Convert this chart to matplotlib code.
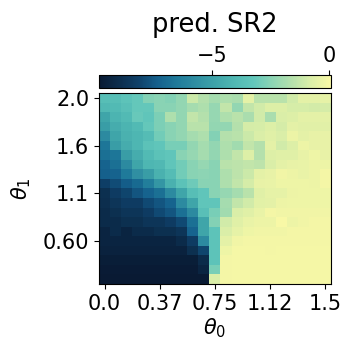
import numpy as np
import matplotlib
matplotlib.use('Agg')
import matplotlib.pyplot as plt
from matplotlib.colors import LinearSegmentedColormap

# theta0 along columns, theta1 along rows (top row = 2.0)
theta0_ticks = [0, 5, 10, 15, 20]
theta0_labels = ['0.0', '0.37', '0.75', '1.12', '1.5']
theta1_ticks = [0, 5, 10, 15]
theta1_labels = ['2.0', '1.6', '1.1', '0.60']

# predicted SR2, rows top -> bottom
row00 = [-3.7, -3.7, -3.4, -3.2, -2.6, -2.5, -2.6, -2.3, -1.1, -1.6, -1.9, -1.7, -1.8, -0.5, -1.5, -1.5, -1.5, -1.0, -0.5, -0.5, -0.45]
row01 = [-4.0, -3.9, -3.6, -3.2, -3.2, -2.5, -2.5, -2.3, -1.9, -1.7, -2.2, -1.3, -2.3, -1.3, -1.0, -0.7, -0.7, -0.85, -0.85, -0.95, -0.9]
row02 = [-4.8, -4.2, -3.9, -3.1, -3.3, -2.7, -1.7, -2.3, -1.3, -1.6, -2.2, -1.7, -1.5, -1.8, -1.0, -1.8, -0.8, -0.7, -0.5, -0.5, -0.5]
row03 = [-5.1, -4.5, -4.2, -3.9, -3.2, -2.7, -2.5, -2.3, -1.5, -1.5, -2.3, -2.3, -1.6, -0.9, -0.85, -0.7, -0.9, -0.5, -0.6, -0.6, -0.6]
row04 = [-5.8, -4.8, -4.3, -4.1, -3.8, -2.9, -2.5, -2.3, -1.9, -1.7, -2.6, -1.6, -1.5, -1.1, -0.8, -0.65, -0.8, -0.3, -0.5, -0.4, -0.4]
row05 = [-6.6, -5.1, -4.5, -4.1, -3.5, -3.3, -2.8, -2.8, -2.3, -1.9, -2.3, -1.7, -2.0, -1.3, -1.6, -0.5, -1.0, -0.7, -0.25, -0.4, -0.4]
row06 = [-6.8, -6.6, -5.1, -4.5, -3.9, -3.5, -3.3, -2.5, -2.2, -1.9, -2.3, -1.7, -1.3, -0.7, -1.6, -0.7, -0.65, -0.65, -0.4, -0.2, -0.4]
row07 = [-7.2, -6.8, -5.8, -4.8, -4.1, -4.0, -3.3, -2.9, -2.5, -2.2, -2.5, -1.5, -1.4, -1.3, -1.4, -0.8, -0.5, -0.4, -0.35, -0.25, -0.25]
row08 = [-7.3, -7.2, -6.5, -5.6, -5.1, -4.3, -3.8, -2.9, -2.5, -2.4, -2.5, -1.7, -1.4, -1.1, -0.5, -0.4, -0.12, -0.25, -0.35, -0.25, -0.05]
row09 = [-8.2, -7.8, -7.4, -7.0, -6.3, -5.4, -4.3, -3.5, -3.0, -2.5, -2.5, -1.7, -1.3, -0.9, -0.4, -0.35, -0.2, -0.2, -0.2, -0.25, -0.05]
row10 = [-8.8, -8.3, -8.0, -7.6, -7.2, -6.8, -5.8, -4.8, -3.7, -3.3, -2.5, -2.2, -1.9, -1.5, -0.65, -0.45, -0.45, -0.25, -0.2, -0.2, -0.2]
row11 = [-8.9, -8.6, -8.3, -8.3, -7.9, -7.6, -7.2, -5.8, -4.8, -3.3, -3.3, -1.9, -1.3, -1.0, -0.55, -0.5, -0.25, -0.2, -0.2, -0.2, -0.2]
row12 = [-9.0, -8.8, -8.6, -8.6, -8.3, -7.9, -7.6, -6.8, -5.8, -3.6, -2.8, -2.0, -0.8, -0.65, -0.35, -0.05, -0.12, -0.12, -0.12, -0.12, -0.12]
row13 = [-9.0, -9.0, -8.8, -8.8, -8.6, -8.6, -8.3, -7.9, -6.8, -4.8, -2.6, -1.0, -0.65, -0.35, -0.25, -0.25, 0.05, -0.25, -0.12, -0.05, -0.05]
row14 = [-9.3, -9.0, -9.3, -9.0, -9.0, -8.8, -8.8, -8.6, -7.2, -4.8, -3.4, -0.8, -0.45, -0.2, -0.12, -0.12, -0.12, -0.05, -0.05, -0.05, -0.05]
row15 = [-9.3, -9.3, -9.3, -9.3, -9.3, -9.3, -9.3, -9.0, -8.3, -5.8, -3.4, -0.5, -0.12, -0.05, -0.05, -0.05, -0.05, -0.05, -0.05, -0.05, -0.05]
row16 = [-9.4, -9.4, -9.4, -9.4, -9.4, -9.4, -9.4, -9.4, -8.8, -8.0, -3.4, -0.2, -0.03, -0.03, -0.03, -0.05, -0.03, -0.03, -0.03, -0.03, -0.03]
row17 = [-9.6, -9.6, -9.6, -9.6, -9.6, -9.6, -9.6, -9.6, -9.6, -9.0, -3.4, -0.05, -0.03, -0.03, -0.03, -0.03, -0.03, -0.03, -0.03, -0.03, -0.03]
row18 = [-9.7, -9.7, -9.7, -9.7, -9.7, -9.7, -9.7, -9.7, -9.7, -9.3, -2.8, -0.05, -0.03, -0.03, -0.03, -0.03, -0.03, -0.03, -0.03, -0.03, -0.03]
row19 = [-9.8, -9.8, -9.8, -9.8, -9.8, -9.8, -9.8, -9.8, -9.8, -9.8, -0.8, -0.05, -0.03, -0.03, -0.03, -0.03, -0.03, -0.03, -0.03, -0.03, -0.03]

sr2 = np.array([row00, row01, row02, row03, row04, row05, row06, row07, row08, row09,
                row10, row11, row12, row13, row14, row15, row16, row17, row18, row19])

cmap = LinearSegmentedColormap.from_list('sr2', [
    '#091a33', '#0c2d4c', '#0f4068', '#15608c', '#1f7a9a', '#2f8ea2',
    '#3ea4a9', '#50b8b3', '#62c7bb', '#8ed5b4', '#b5e1ac', '#dcefa8', '#f8f8a6'])

fig = plt.figure(figsize=(3.53, 3.52), dpi=100)
ax = fig.add_axes([99 / 353, 68 / 352, 232 / 353, 191 / 352])
cax = fig.add_axes([99 / 353, 264.3 / 352, 232 / 353, 12.4 / 352])

im = ax.imshow(sr2, cmap=cmap, vmin=-9.8, vmax=0.08, aspect='auto', interpolation='nearest')
ax.set_xticks(theta0_ticks)
ax.set_xticklabels(theta0_labels)
ax.set_yticks(theta1_ticks)
ax.set_yticklabels(theta1_labels)
ax.tick_params(labelsize=15)
ax.set_xlabel(r'$\theta_0$', fontsize=15, labelpad=2)
ax.set_ylabel(r'$\theta_1$', fontsize=15, labelpad=7)

cb = fig.colorbar(im, cax=cax, orientation='horizontal', ticklocation='top')
cb.set_ticks([-5, 0])
cb.ax.tick_params(labelsize=15)
fig.text(215 / 353, 1 - 32 / 352, 'pred. SR2', fontsize=18.5, ha='center', va='baseline')

fig.savefig('out.png', dpi=100)
